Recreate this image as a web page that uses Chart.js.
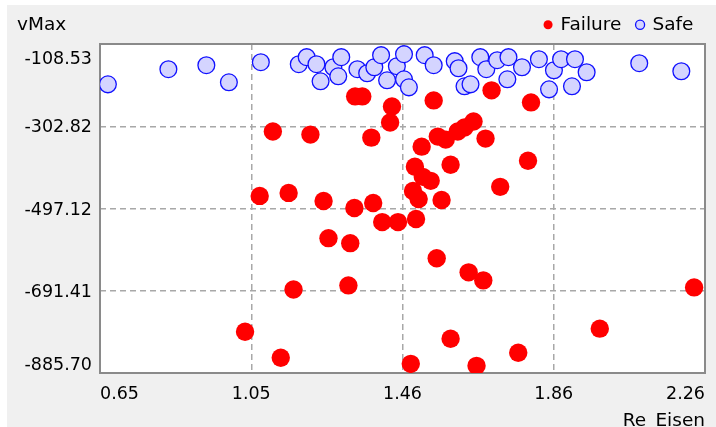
<!DOCTYPE html>
<html><head><meta charset="utf-8">
<script src="https://cdn.jsdelivr.net/npm/chart.js@4.4.1/dist/chart.umd.min.js"></script>
<style>html,body{margin:0;padding:0;background:#fff;}canvas{display:block}</style>
</head><body>
<canvas id="c" width="716" height="427"></canvas>
<script>
const xAxisTitle = 'Re_Eisen';
const yAxisTitle = 'vMax';
const seriesNames = ['Failure', 'Safe'];
const xMin = 0.65, xMax = 2.26;
const yMin = -885.70, yMax = -108.53;
const xTickLabels = ['0.65', '1.05', '1.46', '1.86', '2.26'];
const yTickLabels = ['-885.70', '-691.41', '-497.12', '-302.82', '-108.53'];

const failureX = [1.329,1.348,1.427,1.422,1.538,1.692,1.797,1.110,1.210,1.372,1.506,1.549,1.570,1.602,1.620,1.644,1.676,1.488,1.583,1.789,1.509,1.530,1.715,1.483,1.498,1.559,1.075,1.152,1.245,1.327,1.377,1.401,1.443,1.491,1.258,1.316,1.546,1.631,1.670,2.231,1.165,1.311,1.036,1.980,1.583,1.763,1.131,1.477,1.652];
const failureY = [-232.3,-232.3,-256.0,-294.0,-241.8,-218.0,-246.5,-315.4,-322.5,-329.7,-351.0,-327.3,-334.4,-315.4,-305.9,-291.7,-332.0,-398.5,-393.8,-384.3,-422.3,-431.8,-446.0,-455.5,-474.5,-476.9,-467.4,-460.3,-479.3,-495.9,-484.0,-529.2,-529.2,-522.0,-567.2,-579.0,-614.7,-647.9,-666.9,-683.5,-688.3,-678.8,-788.1,-780.9,-804.7,-837.9,-849.8,-864.1,-868.8];

const safeX = [0.671,0.832,0.933,0.993,1.078,1.179,1.200,1.226,1.237,1.271,1.292,1.284,1.335,1.361,1.380,1.398,1.414,1.440,1.459,1.459,1.472,1.514,1.538,1.594,1.604,1.620,1.636,1.662,1.678,1.707,1.737,1.734,1.773,1.818,1.845,1.858,1.877,1.906,1.914,1.945,2.085,2.197];
const safeY = [-203.8,-168.1,-158.6,-199.0,-151.5,-156.3,-139.6,-156.3,-196.6,-163.4,-139.6,-184.8,-168.1,-177.6,-163.4,-134.9,-194.3,-161.0,-132.5,-191.9,-210.9,-134.9,-158.6,-149.1,-165.8,-208.5,-203.8,-139.6,-168.1,-146.8,-139.6,-191.9,-163.4,-144.4,-215.7,-170.5,-144.4,-208.5,-144.4,-175.3,-153.9,-172.9];

const FONT = 'DejaVu Sans';
const toPts = (xs, ys) => xs.map((x, i) => ({x: x, y: ys[i]}));

const framePlugin = {
  id: 'frame',
  beforeDraw(chart) {
    const {ctx, chartArea: a, width, height} = chart;
    ctx.save();
    ctx.fillStyle = '#ffffff';
    ctx.fillRect(0, 0, width, height);
    ctx.fillStyle = '#f0f0f0';
    ctx.fillRect(7, 5, width - 7, height - 5);
    ctx.fillStyle = '#ffffff';
    ctx.fillRect(a.left, a.top, a.right - a.left, a.bottom - a.top);
    ctx.restore();
  },
  beforeDatasetsDraw(chart) {
    const {ctx, chartArea: a} = chart;
    ctx.save();
    ctx.strokeStyle = '#8a8a8a';
    ctx.lineWidth = 2;
    ctx.strokeRect(a.left, a.top, a.right - a.left, a.bottom - a.top);
    ctx.restore();
  },
  afterDraw(chart) {
    const ctx = chart.ctx;
    ctx.save();
    ctx.font = '18.5px "' + FONT + '"';
    ctx.fillStyle = '#000000';
    ctx.textBaseline = 'middle';
    ctx.textAlign = 'left';
    ctx.fillText(yAxisTitle, 17, 25);
    ctx.restore();
  }
};

const gridColor = (c) => (c.index === 0 || c.index === 4) ? 'rgba(0,0,0,0)' : '#a8a8a8';

new Chart(document.getElementById('c'), {
  type: 'scatter',
  data: {
    datasets: [
      {
        label: seriesNames[0],
        data: toPts(failureX, failureY),
        backgroundColor: '#ff0000',
        borderColor: '#ff0000',
        borderWidth: 0,
        pointRadius: 9.2,
        pointHoverRadius: 9.2
      },
      {
        label: seriesNames[1],
        data: toPts(safeX, safeY),
        backgroundColor: '#d4d4ff',
        borderColor: '#1010ff',
        borderWidth: 1.3,
        pointRadius: 8.4,
        pointHoverRadius: 8.4
      }
    ]
  },
  options: {
    responsive: false,
    animation: false,
    events: [],
    devicePixelRatio: 1,
    layout: {padding: {top: 0, left: 0, right: 7, bottom: 0}},
    plugins: {
      tooltip: {enabled: false},
      legend: {
        position: 'top',
        align: 'end',
        labels: {
          usePointStyle: true,
          pointStyle: 'circle',
          boxWidth: 6.4,
          boxHeight: 6.4,
          padding: 15.5,
          color: '#000000',
          font: {family: FONT, size: 18.5}
        }
      }
    },
    scales: {
      x: {
        type: 'linear',
        position: 'bottom',
        min: xMin,
        max: xMax,
        afterFit(s) { s.height = 54; },
        border: {display: false, dash: [6, 4]},
        grid: {color: gridColor, lineWidth: 1.5, drawTicks: false, borderDash: [6, 4]},
        ticks: {
          stepSize: (xMax - xMin) / (xTickLabels.length - 1),
          align: 'inner',
          padding: 11,
          maxRotation: 0,
          autoSkip: false,
          color: '#000000',
          font: {family: FONT, size: 17.5},
          callback: (v, i) => xTickLabels[i]
        },
        title: {
          display: true,
          text: xAxisTitle,
          align: 'end',
          color: '#000000',
          font: {family: FONT, size: 18.5, lineHeight: 1},
          padding: {top: 0, bottom: -3}
        }
      },
      y: {
        type: 'linear',
        position: 'left',
        min: yMin,
        max: yMax,
        afterFit(s) { s.width = 100; },
        border: {display: false, dash: [6, 4]},
        grid: {color: gridColor, lineWidth: 1.5, drawTicks: false, borderDash: [6, 4]},
        ticks: {
          stepSize: (yMax - yMin) / (yTickLabels.length - 1),
          padding: 8,
          labelOffset: 1.5,
          autoSkip: false,
          color: '#000000',
          font: (c) => ({family: FONT, size: 17.5, lineHeight: c.index === 4 ? 1.6 : (c.index === 0 ? 1.04 : 1.2)}),
          callback: (v, i) => i === yTickLabels.length - 1 ? ['', yTickLabels[i]] : (i === 0 ? [yTickLabels[i], ''] : yTickLabels[i])
        }
      }
    }
  },
  plugins: [framePlugin]
});
</script>
</body></html>
